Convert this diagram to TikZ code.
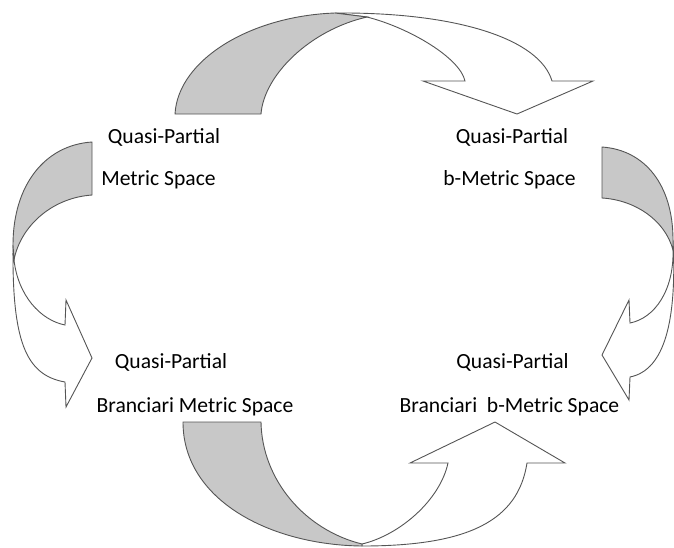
\documentclass[tikz,border=0pt]{standalone}
\usepackage{fontspec}
\setmainfont{Carlito}
\definecolor{edgegray}{RGB}{85,85,85}
\definecolor{backgray}{RGB}{200,200,200}
\tikzset{
  band/.style={draw=edgegray, line width=0.9pt, fill=white, line join=miter},
  backface/.style={band, fill=backgray},
  lbl/.style={inner sep=0pt, font=\fontsize{21.6}{25}\selectfont}
}

\begin{document}
\begin{tikzpicture}[x=1pt, y=-1pt]
        \useasboundingbox (0,0) rectangle (674,547);

        % Top arrow
        \draw [band] (335,13) .. controls (460,12) and (540,40) .. (552,81)
            -- (593,81) -- (517,114) -- (423,81) -- (465,81)
            .. controls (460,58) and (410,28) .. (367,17) -- cycle;
        \draw [backface] (175,114) .. controls (178,60) and (250,16) .. (335,13)
            -- (367,17) .. controls (310,30) and (264,75) .. (261,114) -- cycle;

        % Left arrow
        \draw [band] (13,245) .. controls (12,340) and (25,375) .. (65,382)
            -- (66,407) -- (92,358) -- (66,300) -- (65,325)
            .. controls (40,320) and (18,295) .. (14,260) -- cycle;
        \draw [backface] (92,142) -- (92,195) .. controls (50,198) and (20,228) .. (14,260)
            -- (13,245) .. controls (13,185) and (45,145) .. (92,142) -- cycle;

        % Right arrow
        \draw [band] (673,240) .. controls (677,320) and (665,370) .. (630,377)
            -- (629,400) -- (602,355) -- (629,300) -- (630,323)
            .. controls (655,318) and (674,290) .. (673,250) -- cycle;
        \draw [backface] (602,147) -- (602,198) .. controls (635,200) and (665,220) .. (673,250)
            -- (673,240) .. controls (673,185) and (645,150) .. (602,147) -- cycle;

        % Bottom arrow
        \draw [band] (362,546) .. controls (470,546) and (518,520) .. (527,463)
            -- (565,463) -- (495,422) -- (410,463) -- (448,463)
            .. controls (440,500) and (400,535) .. (362,544) -- cycle;
        \draw [backface] (183,422) -- (261,422) .. controls (262,480) and (305,530) .. (362,544)
            -- (362,546) .. controls (270,545) and (183,500) .. (183,422) -- cycle;

        % Spaces
        \node [lbl] (qpmTop) at (164,137) {Quasi-Partial};
        \node [lbl] (qpmBot) at (158.5,180) {Metric Space};
        \node [lbl] (qpbTop) at (512,137) {Quasi-Partial};
        \node [lbl] (qpbBot) at (509.5,180) {b-Metric Space};
        \node [lbl] (qpbrTop) at (171,362) {Quasi-Partial};
        \node [lbl] (qpbrBot) at (195,407) {Branciari Metric Space};
        \node [lbl] (qpbbTop) at (512.5,362) {Quasi-Partial};
        \node [lbl] (qpbbBot) at (509.5,407) {Branciari\ \ b-Metric Space};
    \end{tikzpicture}
\end{document}
